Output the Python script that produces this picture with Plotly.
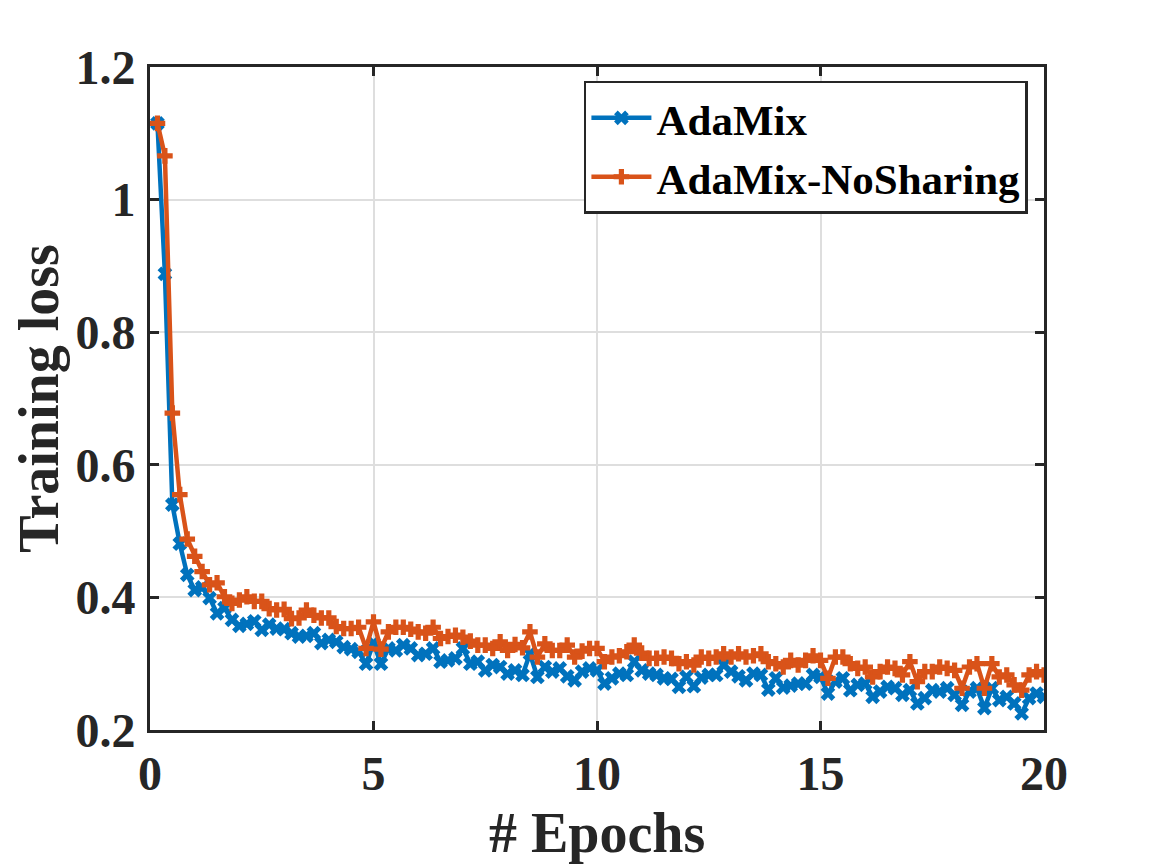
import plotly.graph_objects as go

# epochs: 6 logged points per epoch
epochs = [k / 6 for k in range(1, 121)]

adamix = [
    1.115, 0.888, 0.540, 0.481, 0.434, 0.411, 0.415, 0.399, 0.376, 0.384,
    0.366, 0.357, 0.360, 0.364, 0.351, 0.359, 0.353, 0.352, 0.346, 0.341,
    0.342, 0.346, 0.331, 0.336, 0.333, 0.325, 0.322, 0.318, 0.300, 0.331,
    0.300, 0.323, 0.320, 0.328, 0.323, 0.313, 0.315, 0.323, 0.303, 0.305,
    0.308, 0.323, 0.300, 0.303, 0.290, 0.298, 0.295, 0.285, 0.290, 0.283,
    0.315, 0.280, 0.295, 0.288, 0.293, 0.281, 0.275, 0.288, 0.293, 0.290,
    0.270, 0.278, 0.285, 0.283, 0.303, 0.290, 0.285, 0.283, 0.278, 0.277,
    0.265, 0.280, 0.266, 0.279, 0.283, 0.283, 0.298, 0.288, 0.281, 0.275,
    0.285, 0.283, 0.261, 0.278, 0.264, 0.267, 0.270, 0.270, 0.283, 0.280,
    0.255, 0.273, 0.278, 0.260, 0.268, 0.270, 0.250, 0.258, 0.265, 0.263,
    0.253, 0.260, 0.240, 0.248, 0.260, 0.258, 0.263, 0.253, 0.238, 0.258,
    0.263, 0.233, 0.263, 0.245, 0.250, 0.240, 0.225, 0.248, 0.255, 0.250,
]

nosharing = [
    1.115, 1.066, 0.678, 0.555, 0.488, 0.462, 0.439, 0.419, 0.422, 0.401,
    0.391, 0.396, 0.401, 0.394, 0.394, 0.383, 0.381, 0.382, 0.368, 0.369,
    0.381, 0.373, 0.369, 0.369, 0.356, 0.353, 0.353, 0.355, 0.323, 0.363,
    0.322, 0.348, 0.355, 0.355, 0.352, 0.348, 0.346, 0.355, 0.338, 0.341,
    0.343, 0.340, 0.334, 0.328, 0.328, 0.323, 0.333, 0.320, 0.329, 0.324,
    0.348, 0.310, 0.330, 0.320, 0.320, 0.328, 0.310, 0.319, 0.323, 0.323,
    0.303, 0.310, 0.312, 0.318, 0.328, 0.316, 0.308, 0.308, 0.310, 0.308,
    0.300, 0.303, 0.298, 0.310, 0.308, 0.310, 0.315, 0.310, 0.315, 0.310,
    0.312, 0.315, 0.303, 0.300, 0.295, 0.305, 0.298, 0.305, 0.312, 0.305,
    0.278, 0.310, 0.310, 0.300, 0.293, 0.295, 0.280, 0.288, 0.295, 0.293,
    0.283, 0.303, 0.273, 0.288, 0.288, 0.295, 0.293, 0.290, 0.263, 0.295,
    0.300, 0.263, 0.300, 0.280, 0.283, 0.268, 0.260, 0.283, 0.288, 0.283,
]

series_names = ["AdaMix", "AdaMix-NoSharing"]

font = "Liberation Serif, Times New Roman, serif"
axcol = "#262626"

fig = go.Figure()
fig.add_trace(go.Scatter(
    x=epochs, y=adamix, name=series_names[0], mode="lines+markers",
    line=dict(color="#0072BD", width=4.5),
    marker=dict(symbol="x", size=13, color="#0072BD"),
))
fig.add_trace(go.Scatter(
    x=epochs, y=nosharing, name=series_names[1], mode="lines+markers",
    line=dict(color="#D95319", width=4.5),
    marker=dict(symbol="cross", size=13, color="#D95319"),
))

axis_common = dict(
    showline=True, linecolor=axcol, linewidth=2.7, mirror="ticks",
    ticks="inside", ticklen=9, tickwidth=2.5, tickcolor=axcol,
    showgrid=True, gridcolor="#DEDEDE", gridwidth=2,
    zeroline=False, automargin=False,
    tickfont=dict(family=font, size=48, color=axcol, weight="bold"),
)

fig.update_xaxes(range=[0, 20], dtick=5, tick0=0, ticklabelstandoff=0, **axis_common)
fig.update_yaxes(range=[0.2, 1.2], dtick=0.2, tick0=0.2, ticklabelstandoff=2, **axis_common)

# axis titles as annotations so they sit where the original puts them
fig.add_annotation(
    text="# Epochs", xref="paper", yref="paper", x=0.5, y=-0.155,
    xanchor="center", yanchor="middle", showarrow=False,
    font=dict(family=font, size=56, color=axcol, weight="bold"),
)
fig.add_annotation(
    text="Training loss", xref="paper", yref="paper", x=-0.125, y=0.5,
    xanchor="center", yanchor="middle", showarrow=False, textangle=-90,
    font=dict(family=font, size=56, color=axcol, weight="bold"),
)

fig.update_layout(
    width=1152, height=864,
    margin=dict(l=142, r=116, t=59, b=142),
    paper_bgcolor="white", plot_bgcolor="white",
    showlegend=True,
    legend=dict(
        x=0.982, y=0.979, xanchor="right", yanchor="top",
        bgcolor="white", bordercolor=axcol, borderwidth=2.5,
        font=dict(family=font, size=43, color="black", weight="bold"),
        itemwidth=60, tracegroupgap=0,
    ),
)

fig.write_html("out.html")
